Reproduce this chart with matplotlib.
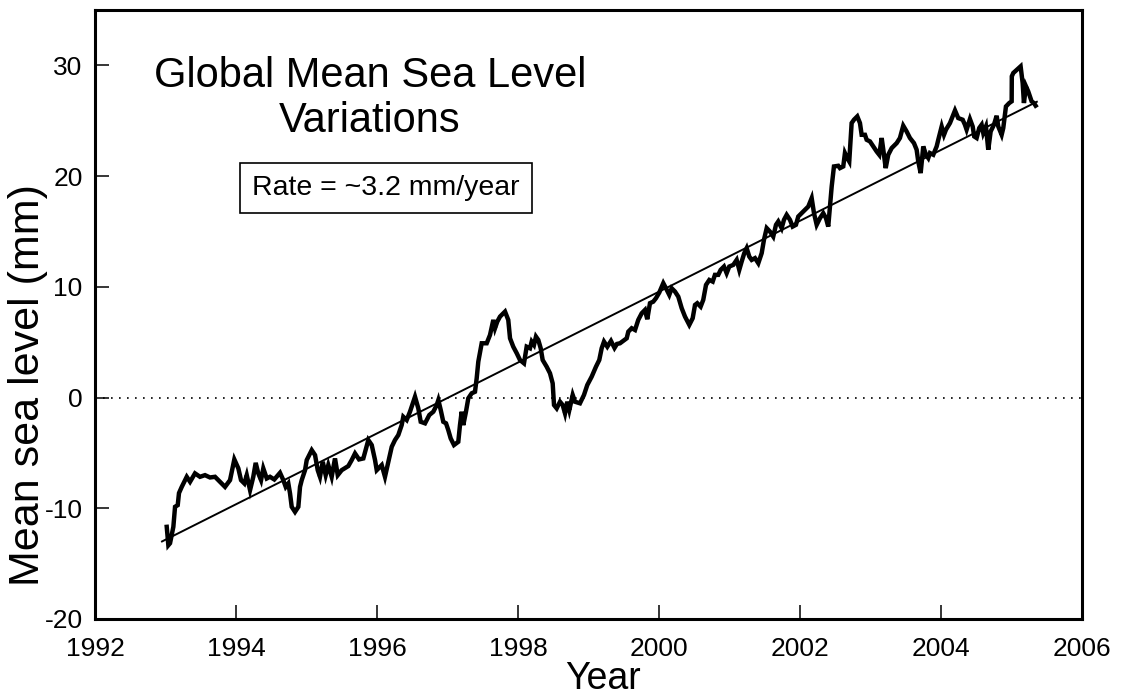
import matplotlib
matplotlib.use("Agg")
import matplotlib.pyplot as plt

plt.rcParams['font.family'] = ['Liberation Sans', 'DejaVu Sans']
plt.rcParams['axes.unicode_minus'] = False

# Global mean sea level anomaly (mm) against decimal year
years = [
    1993.017, 1993.040, 1993.064, 1993.111, 1993.135, 1993.173, 1993.191, 1993.230,
    1993.301, 1993.348, 1993.418, 1993.489, 1993.560, 1993.631, 1993.702, 1993.773,
    1993.844, 1993.915, 1993.976, 1994.033, 1994.071, 1994.118, 1994.152, 1994.199,
    1994.245, 1994.279, 1994.316, 1994.355, 1994.387, 1994.436, 1994.482, 1994.543,
    1994.624, 1994.671, 1994.705, 1994.742, 1994.766, 1994.790, 1994.837, 1994.884,
    1994.908, 1994.932, 1994.955, 1994.979, 1995.003, 1995.074, 1995.121, 1995.159,
    1995.191, 1995.230, 1995.272, 1995.309, 1995.357, 1995.404, 1995.443, 1995.499,
    1995.593, 1995.641, 1995.688, 1995.745, 1995.806, 1995.877, 1995.925, 1995.972,
    1995.996, 1996.067, 1996.113,
    1996.209, 1996.255, 1996.302, 1996.350, 1996.373, 1996.421, 1996.468, 1996.539,
    1996.586, 1996.620, 1996.681, 1996.742, 1996.799, 1996.847, 1996.870, 1996.904,
    1996.940, 1996.979, 1997.011, 1997.045, 1997.092, 1997.153, 1997.177, 1997.201,
    1997.224, 1997.262, 1997.295, 1997.343, 1997.390, 1997.414, 1997.437, 1997.485,
    1997.556, 1997.603, 1997.650, 1997.674, 1997.706, 1997.745, 1997.816, 1997.862,
    1997.887, 1997.933, 1997.982, 1998.028, 1998.085, 1998.123, 1998.170, 1998.194,
    1998.227, 1998.255, 1998.288, 1998.322, 1998.350, 1998.407, 1998.454, 1998.492,
    1998.511, 1998.549, 1998.596, 1998.634, 1998.667, 1998.699, 1998.728, 1998.776,
    1998.809, 1998.879, 1998.936, 1998.983, 1999.045, 1999.106, 1999.153, 1999.187,
    1999.220, 1999.267, 1999.319, 1999.369, 1999.404,
    1999.447, 1999.542, 1999.565, 1999.613, 1999.660, 1999.706, 1999.755, 1999.801,
    1999.834, 1999.872, 1999.919, 1999.957, 2000.004, 2000.061, 2000.099, 2000.146,
    2000.180, 2000.227, 2000.274, 2000.322, 2000.369, 2000.430, 2000.478, 2000.511,
    2000.543, 2000.591, 2000.628, 2000.667, 2000.714, 2000.762, 2000.794, 2000.841,
    2000.875, 2000.922, 2000.960, 2000.997, 2001.054, 2001.102, 2001.139, 2001.173,
    2001.210, 2001.244, 2001.281, 2001.315, 2001.362, 2001.409, 2001.457, 2001.489,
    2001.528, 2001.574, 2001.621, 2001.660, 2001.692, 2001.740, 2001.773, 2001.811,
    2001.858, 2001.896, 2001.943, 2001.976, 2002.024, 2002.071, 2002.118, 2002.166,
    2002.199, 2002.237, 2002.284, 2002.330, 2002.369, 2002.401, 2002.426, 2002.450,
    2002.482, 2002.543,
    2002.567, 2002.614, 2002.638, 2002.671, 2002.699, 2002.733, 2002.766, 2002.813,
    2002.851, 2002.875, 2002.922, 2002.946, 2002.993, 2003.040, 2003.088, 2003.125,
    2003.159, 2003.182, 2003.216, 2003.252, 2003.301, 2003.372, 2003.418, 2003.465,
    2003.513, 2003.560, 2003.617, 2003.655, 2003.678, 2003.712, 2003.749, 2003.787,
    2003.820, 2003.844, 2003.891, 2003.939, 2003.962, 2004.010, 2004.043, 2004.071,
    2004.128, 2004.199, 2004.245, 2004.308, 2004.340, 2004.364, 2004.411, 2004.450,
    2004.472, 2004.506, 2004.543, 2004.577, 2004.600, 2004.638, 2004.671, 2004.705,
    2004.752, 2004.790, 2004.813, 2004.861, 2004.884, 2004.922, 2004.969, 2005.003,
    2005.005, 2005.026, 2005.130, 2005.159, 2005.177, 2005.206, 2005.238, 2005.286,
    2005.319, 2005.343,
]

sea_level_mm = [
    -11.68, -13.34, -13.16, -11.68, -9.87, -9.72, -8.63, -8.07,
    -7.16, -7.61, -6.85, -7.16, -7.01, -7.22, -7.16, -7.61,
    -8.07, -7.46, -5.59, -6.40, -7.46, -7.76, -7.01, -8.36,
    -7.16, -5.90, -6.85, -7.46, -6.40, -7.31, -7.16, -7.40,
    -6.80, -7.46, -8.07, -7.76, -8.66, -9.87, -10.33, -9.87,
    -8.07, -7.46, -7.01, -6.56, -5.65, -4.75, -5.20, -6.56,
    -7.16, -5.80, -7.01, -6.10, -7.16, -5.50, -7.01, -6.56,
    -6.19, -5.65, -5.05, -5.59, -5.50, -3.84, -4.29, -5.65,
    -6.56, -6.10, -7.16,
    -4.45, -3.84, -3.39, -2.49, -1.74, -2.03, -1.28, 0.07,
    -0.98, -2.19, -2.33, -1.58, -1.28, -0.68, -0.23, -1.13,
    -2.19, -2.33, -2.94, -3.69, -4.29, -4.00, -2.49, -1.28,
    -2.49, -1.28, -0.07, 0.38, 0.52, 1.74, 3.24, 4.90,
    4.90, 5.65, 7.01, 6.26, 6.85, 7.31, 7.76, 7.01,
    5.35, 4.59, 4.00, 3.39, 3.09, 4.59, 4.45, 5.05,
    4.75, 5.50, 5.20, 4.45, 3.39, 2.78, 2.19, 1.28,
    -0.68, -0.98, -0.38, -0.68, -1.43, -0.38, -1.13, 0.23,
    -0.38, -0.52, 0.23, 1.13, 1.88, 2.78, 3.39, 4.45,
    5.05, 4.59, 5.11, 4.48, 4.84,
    4.90, 5.35, 5.95, 6.26, 6.10, 7.01, 7.61, 7.91,
    7.07, 8.52, 8.66, 8.97, 9.48, 10.33, 9.87, 9.27,
    9.87, 9.57, 9.11, 8.07, 7.31, 6.56, 7.16, 8.36,
    8.52, 8.21, 8.82, 10.17, 10.62, 10.47, 11.08, 11.08,
    11.53, 11.83, 11.23, 11.83, 11.98, 12.43, 11.53, 12.28,
    13.04, 13.49, 12.73, 12.43, 12.59, 12.13, 13.04, 14.24,
    15.30, 14.99, 14.54, 15.60, 15.90, 15.30, 16.05, 16.50,
    16.05, 15.44, 15.60, 16.35, 16.65, 16.95, 17.25, 18.01,
    16.65, 15.60, 16.20, 16.65, 16.20, 15.44, 17.25, 19.06,
    20.87, 20.93,
    20.72, 20.87, 22.08, 21.63, 21.32, 24.79, 25.09, 25.39,
    24.79, 23.73, 23.73, 23.28, 23.13, 22.68, 22.22, 21.92,
    23.44, 22.38, 20.72, 21.92, 22.53, 22.98, 23.44, 24.55,
    24.03, 23.44, 22.98, 22.38, 21.32, 20.27, 22.68, 21.93,
    21.63, 22.08, 21.93, 22.68, 23.28, 24.48, 23.73, 24.19,
    24.79, 25.93, 25.24, 25.09, 24.64, 24.19, 25.15, 24.48,
    23.58, 23.44, 24.34, 24.64, 23.89, 24.48, 22.38, 24.03,
    24.64, 25.45, 24.48, 23.73, 24.34, 26.29, 26.60, 26.75,
    29.01, 29.31, 29.91, 28.41, 26.60, 28.11, 27.65, 26.75,
    26.60, 26.36,
]

# Linear trend
rate_mm_per_year = 3.2
trend_start_year = 1992.95
trend_start_mm = -13.0
trend_end_year = 2005.36

x_ticks = [1992, 1994, 1996, 1998, 2000, 2002, 2004, 2006]
y_ticks = [-20, -10, 0, 10, 20, 30]

fig = plt.figure(figsize=(11.22, 6.95), dpi=100)
ax = fig.add_axes([0.0847, 0.1094, 0.8796, 0.8762])

ax.axhline(0, color='black', lw=1.2, linestyle=(0, (1, 3.8)))

trend_x = [trend_start_year, trend_end_year]
trend_y = [trend_start_mm,
           trend_start_mm + rate_mm_per_year * (trend_end_year - trend_start_year)]
ax.plot(trend_x, trend_y, color='black', lw=1.4)

ax.plot(years, sea_level_mm, color='black', lw=3.2, solid_joinstyle='miter')

ax.set_xlim(1992, 2006)
ax.set_ylim(-20, 35)
ax.set_xticks(x_ticks)
ax.set_yticks(y_ticks)
ax.tick_params(direction='in', length=10, width=1.1, labelsize=19)
ax.tick_params(axis='x', pad=13)
ax.tick_params(axis='y', pad=9)

for s in ax.spines.values():
    s.set_linewidth(2.2)

fig.text(603 / 1122, 1 - 689 / 695, 'Year', ha='center', va='baseline', fontsize=27)
fig.text(28 / 1122, 1 - 385 / 695, 'Mean sea level (mm)', ha='center', va='center',
         rotation=90, fontsize=31)

ax.text(0.2786, 0.8736, 'Global Mean Sea Level', transform=ax.transAxes,
        ha='center', va='baseline', fontsize=30)
ax.text(0.2786, 0.7997, 'Variations', transform=ax.transAxes,
        ha='center', va='baseline', fontsize=30)

ax.text(0.2948, 0.7077, 'Rate = ~3.2 mm/year', transform=ax.transAxes,
        ha='center', va='center', fontsize=20.5,
        bbox=dict(boxstyle='square,pad=0.42', fc='white', ec='black', lw=1.2))

fig.savefig('out.png', dpi=100, facecolor='white')
